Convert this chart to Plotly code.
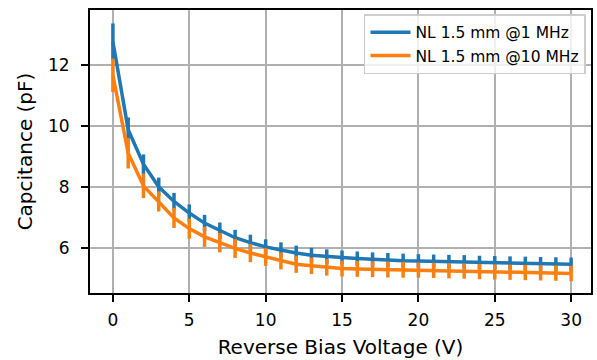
import plotly.graph_objects as go

voltage = list(range(0, 31))
cap_1mhz = [12.75, 9.87, 8.74, 8.0, 7.52, 7.14, 6.81, 6.56, 6.33, 6.17, 6.03,
            5.93, 5.83, 5.76, 5.71, 5.68, 5.65, 5.62, 5.60, 5.58, 5.57,
            5.56, 5.55, 5.54, 5.52, 5.51, 5.50, 5.49, 5.48, 5.47, 5.46]
err_1mhz = [0.6, 0.4, 0.32, 0.3, 0.28, 0.28, 0.27, 0.27, 0.26, 0.26, 0.25,
            0.25, 0.24, 0.24, 0.24, 0.23, 0.23, 0.23, 0.23, 0.23, 0.22,
            0.22, 0.22, 0.22, 0.22, 0.22, 0.22, 0.22, 0.22, 0.22, 0.22]
cap_10mhz = [11.65, 9.1, 8.03, 7.52, 6.98, 6.63, 6.36, 6.17, 5.98, 5.83, 5.70,
             5.57, 5.46, 5.41, 5.36, 5.32, 5.31, 5.30, 5.29, 5.28, 5.27,
             5.26, 5.25, 5.24, 5.22, 5.21, 5.20, 5.19, 5.18, 5.17, 5.16]
err_10mhz = [0.55, 0.5, 0.4, 0.33, 0.33, 0.33, 0.33, 0.32, 0.31, 0.3, 0.29,
             0.28, 0.28, 0.27, 0.27, 0.26, 0.26, 0.26, 0.26, 0.26, 0.25,
             0.25, 0.25, 0.25, 0.25, 0.25, 0.25, 0.25, 0.25, 0.25, 0.25]

names = ["NL 1.5 mm @1 MHz", "NL 1.5 mm @10 MHz"]
colors = ["#1f77b4", "#ff7f0e"]

fig = go.Figure()
for y, e, n, c in [(cap_1mhz, err_1mhz, names[0], colors[0]),
                   (cap_10mhz, err_10mhz, names[1], colors[1])]:
    fig.add_trace(go.Scatter(
        x=voltage, y=y, name=n, mode="lines",
        line=dict(color=c, width=3.5),
        error_y=dict(type="data", array=e, visible=True, color=c,
                     thickness=3.5, width=0),
    ))

font = "DejaVu Sans, sans-serif"
fig.update_layout(
    width=597, height=360,
    margin=dict(l=90, r=4, t=10, b=67),
    plot_bgcolor="white", paper_bgcolor="white",
    font=dict(family=font, color="black", size=17),
    legend=dict(x=0.99, y=0.985, xanchor="right", yanchor="top",
                bgcolor="rgba(255,255,255,0.8)", bordercolor="#cccccc",
                borderwidth=1.5, font=dict(size=15.5, family=font),
                itemwidth=40, tracegroupgap=0),
    showlegend=True,
)
axis_common = dict(showgrid=True, gridcolor="#b0b0b0", gridwidth=2,
                   showline=True, linecolor="black", linewidth=2, mirror=True,
                   ticks="outside", ticklen=7, tickwidth=2, tickcolor="black",
                   zeroline=False, tickfont=dict(size=17))
fig.update_xaxes(range=[-1.5, 31.3], tickvals=[0, 5, 10, 15, 20, 25, 30],
                 title=dict(text="Reverse Bias Voltage (V)", font=dict(size=20), standoff=11),
                 ticklabelstandoff=4, **axis_common)
fig.update_yaxes(range=[4.52, 13.79], tickvals=[6, 8, 10, 12],
                 title=dict(text="Capcitance (pF)", font=dict(size=20), standoff=10),
                 ticklabelstandoff=8, **axis_common)

fig.write_html("out.html")
